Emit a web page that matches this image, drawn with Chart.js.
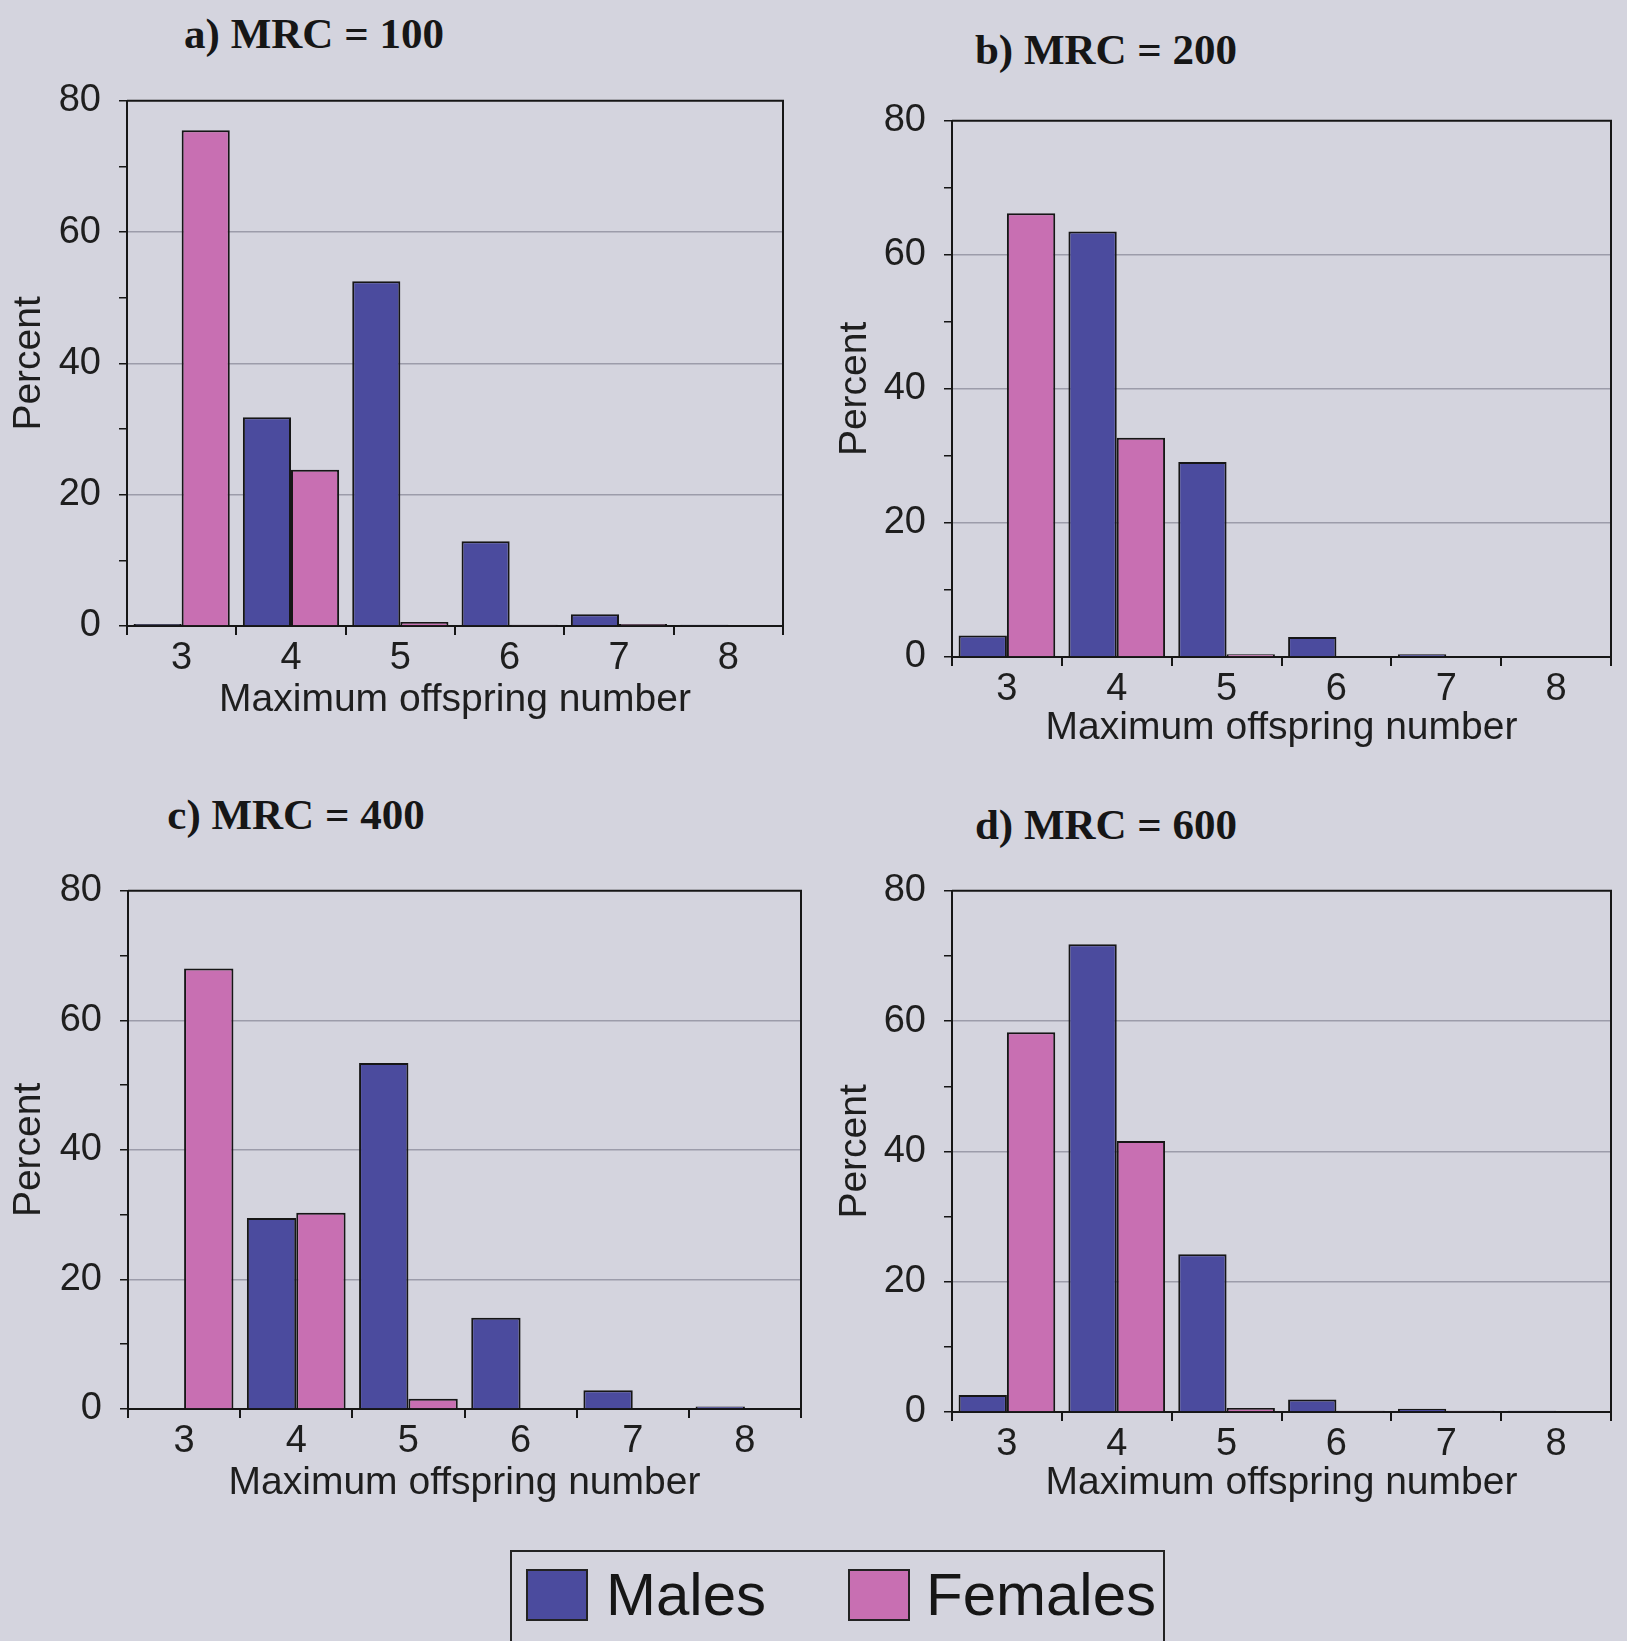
<!DOCTYPE html>
<html>
<head>
<meta charset="utf-8">
<script src="https://cdn.jsdelivr.net/npm/chart.js@4.4.1/dist/chart.umd.min.js"></script>
<style>
  html, body { margin: 0; padding: 0; background: #d4d4de; }
  body { width: 1627px; height: 1641px; position: relative; overflow: hidden; }
  canvas { position: absolute; }
  .ptitle { position: absolute; transform: translate(-50%, -50%); font: bold 43px "Liberation Serif", serif; color: #161616; white-space: nowrap; }
  #legend { position: absolute; left: 510px; top: 1550px; width: 655px; height: 120px; border: 2px solid #222; box-sizing: border-box; font: 60px "Liberation Sans", Arial, sans-serif; color: #161616; }
  .sw { position: absolute; top: 17px; width: 62px; height: 52px; border: 2px solid #222; box-sizing: border-box; }
  .lt { position: absolute; top: 43px; transform: translateY(-50%); line-height: 1; }
</style>
</head>
<body>
<div class="ptitle" style="left:314px;top:33px">a) MRC = 100</div>
<div class="ptitle" style="left:1106px;top:49px">b) MRC = 200</div>
<div class="ptitle" style="left:296px;top:814px">c) MRC = 400</div>
<div class="ptitle" style="left:1106px;top:824px">d) MRC = 600</div>

<canvas id="cA"></canvas>
<canvas id="cB"></canvas>
<canvas id="cC"></canvas>
<canvas id="cD"></canvas>

<div id="legend">
  <div class="sw" style="left:14px;background:#4b4b9e"></div>
  <div class="lt" style="left:94px">Males</div>
  <div class="sw" style="left:336px;background:#c86fb2"></div>
  <div class="lt" style="left:414px">Females</div>
</div>

<script>
// maximum offspring number categories
const categories = ['3', '4', '5', '6', '7', '8'];

// percent per category
const malesA   = [0.3, 31.8, 52.5, 12.9, 1.8, 0.2];
const femalesA = [75.5, 23.8, 0.6, 0.2, 0.3, 0.1];

const malesB   = [3.2, 63.5, 29.1, 3.0, 0.4, 0.1];
const femalesB = [66.2, 32.7, 0.4, 0.1, 0.1, 0.1];

const malesC   = [0.1, 29.5, 53.4, 14.1, 2.9, 0.4];
const femalesC = [68.0, 30.3, 1.6, 0.1, 0.1, 0.1];

const malesD   = [2.6, 71.8, 24.2, 1.9, 0.5, 0.2];
const femalesD = [58.3, 41.6, 0.6, 0.2, 0.2, 0.1];

const MALE = '#4b4b9e';
const FEMALE = '#c86fb2';
const INK = '#161616';
const FONT = '"Liberation Sans", Arial, sans-serif';

// top + right frame of the plot area
const framePlugin = {
  id: 'frame',
  afterDraw(chart) {
    const { ctx, chartArea: a } = chart;
    ctx.save();
    ctx.strokeStyle = INK;
    ctx.lineWidth = 2;
    ctx.beginPath();
    ctx.moveTo(a.left, a.top);
    ctx.lineTo(a.right, a.top);
    ctx.lineTo(a.right, a.bottom);
    ctx.stroke();
    ctx.restore();
  }
};

function makePanel(id, males, females, box) {
  const cv = document.getElementById(id);
  cv.width = box.w; cv.height = box.h;
  cv.style.left = box.x + 'px'; cv.style.top = box.y + 'px';
  cv.style.width = box.w + 'px'; cv.style.height = box.h + 'px';
  return new Chart(cv.getContext('2d'), {
    type: 'bar',
    data: {
      labels: categories,
      datasets: [
        { label: 'Males', data: males, backgroundColor: MALE, borderColor: INK, borderWidth: 2 },
        { label: 'Females', data: females, backgroundColor: FEMALE, borderColor: INK, borderWidth: 2 }
      ]
    },
    options: {
      responsive: false,
      animation: false,
      layout: { padding: { top: box.padTop, right: box.padRight, left: 0, bottom: 0 } },
      datasets: { bar: { categoryPercentage: 0.88, barPercentage: 1.0 } },
      plugins: { legend: { display: false }, tooltip: { enabled: false } },
      scales: {
        x: {
          offset: true,
          grid: { offset: true, drawOnChartArea: false, tickLength: 9, tickColor: INK, lineWidth: 2 },
          border: { color: INK, width: 2 },
          ticks: { color: '#1e1e1e', font: { family: FONT, size: 38 }, padding: 1 },
          title: { display: true, text: 'Maximum offspring number', color: '#1e1e1e',
                   font: { family: FONT, size: 39 }, padding: { top: 0, bottom: 0 } },
          afterFit(s) { s.height = box.xh; }
        },
        y: {
          min: 0, max: 80,
          ticks: { stepSize: 10, color: '#1e1e1e', font: { family: FONT, size: 38 }, padding: 18,
                   callback: v => (v % 20 === 0 ? v : '') },
          grid: {
            color: c => (c.tick && c.tick.value % 20 === 0 && c.tick.value > 0 && c.tick.value < 80) ? '#9c9caa' : 'rgba(0,0,0,0)',
            lineWidth: 1.5,
            tickColor: INK, tickLength: 8
          },
          border: { color: INK, width: 2 },
          title: { display: true, text: 'Percent', color: '#1e1e1e',
                   font: { family: FONT, size: 39 }, padding: { top: box.titlePad, bottom: 0 } },
          afterFit(s) { s.width = box.yw; }
        }
      }
    },
    plugins: [framePlugin]
  });
}

makePanel('cA', malesA, femalesA, { x: 0,   y: 60,  w: 810, h: 664, yw: 127, xh: 98, padTop: 33, padRight: 27, titlePad: 6 });
makePanel('cB', malesB, femalesB, { x: 820, y: 80,  w: 807, h: 672, yw: 132, xh: 95, padTop: 38, padRight: 16, titlePad: 12 });
makePanel('cC', malesC, femalesC, { x: 0,   y: 850, w: 820, h: 657, yw: 128, xh: 98, padTop: 31, padRight: 19, titlePad: 6 });
makePanel('cD', malesD, femalesD, { x: 820, y: 850, w: 807, h: 657, yw: 132, xh: 95, padTop: 31, padRight: 16, titlePad: 12 });
</script>
</body>
</html>
